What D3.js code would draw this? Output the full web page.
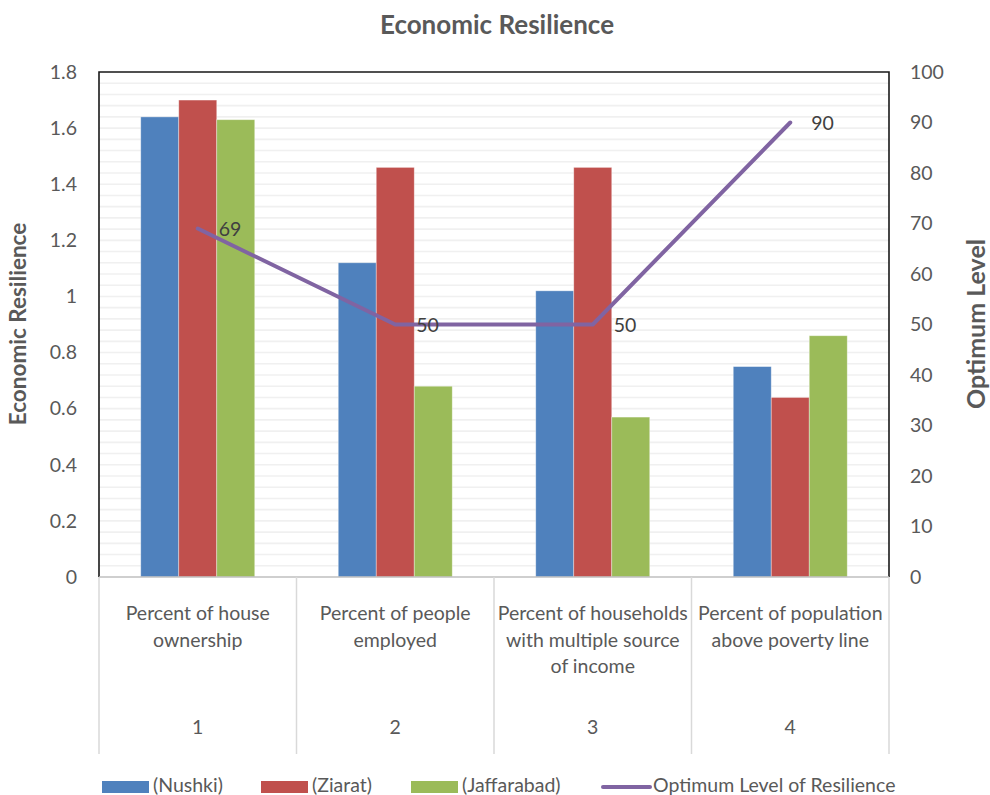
<!DOCTYPE html>
<html><head><meta charset="utf-8">
<script src="https://cdn.jsdelivr.net/npm/d3@7"></script>
<style>body{margin:0;background:#fff}svg{display:block}text{font-family:Lato,"Open Sans",sans-serif}</style>
</head><body>
<svg id="c" width="990" height="795"></svg>
<script>
const categories = ["Percent of house ownership","Percent of people employed","Percent of households with multiple source of income","Percent of population above poverty line"];
const categoryLines = [["Percent of house","ownership"],["Percent of people","employed"],["Percent of households","with multiple source","of income"],["Percent of population","above poverty line"]];
const categoryNumbers = ["1","2","3","4"];
const seriesNames = ["(Nushki)","(Ziarat)","(Jaffarabad)"];
const nushki = [1.64,1.12,1.02,0.75];
const ziarat = [1.70,1.46,1.46,0.64];
const jaffarabad = [1.63,0.68,0.57,0.86];
const optimumName = "Optimum Level of Resilience";
const optimum = [69,50,50,90];
const leftTicks = [0,0.2,0.4,0.6,0.8,1,1.2,1.4,1.6,1.8];
const rightTicks = [0,10,20,30,40,50,60,70,80,90,100];
const colors = ["#4F81BD","#C0504D","#9BBB59"];
const lineColor = "#8064A2";

const svg = d3.select("#c");
const L=99,R=889,T=72,B=577;
const FS=19.5;
const x = d3.scaleBand().domain(d3.range(categories.length)).range([L,R]);
const yL = d3.scaleLinear().domain([0,1.8]).range([B,T]);
const yR = d3.scaleLinear().domain([0,100]).range([B,T]);
const barW = 38;
const inner = d3.scaleBand().domain(d3.range(3)).range([0,barW*3]);

// minor gridlines
const grid = d3.range(0,1.8001,0.04);
svg.append("g").selectAll("line").data(grid.slice(1)).join("line")
  .attr("x1",L).attr("x2",R).attr("y1",d=>yL(d)).attr("y2",d=>yL(d))
  .attr("stroke","#f0f0f0").attr("stroke-width",1.6);

// bars
const series=[nushki,ziarat,jaffarabad];
series.forEach((s,si)=>{
  svg.append("g").selectAll("rect").data(s).join("rect")
    .attr("x",(d,i)=>x(i)+x.bandwidth()/2-barW*1.5+inner(si))
    .attr("width",barW)
    .attr("y",d=>yL(d)).attr("height",d=>B-yL(d))
    .attr("fill",colors[si]).attr("stroke","#ffffff").attr("stroke-opacity",0.45).attr("stroke-width",0.8);
});

// border
svg.append("path").attr("d",`M${L},${B}V${T}H${R}V${B}`).attr("fill","none").attr("stroke","#1a1a1a").attr("stroke-width",1.6);
svg.append("line").attr("x1",L).attr("x2",R).attr("y1",B).attr("y2",B).attr("stroke","#bfbfbf").attr("stroke-width",1.5);

// category table
const bounds = d3.range(categories.length+1).map(i=> i<categories.length? x(i): R);
svg.append("g").selectAll("line").data(bounds).join("line")
  .attr("x1",d=>d).attr("x2",d=>d).attr("y1",B).attr("y2",754)
  .attr("stroke","#d9d9d9").attr("stroke-width",1.5);
categoryLines.forEach((lines,i)=>{
  const t=svg.append("text").attr("text-anchor","middle").attr("fill","#595959").attr("font-size",FS);
  lines.forEach((ln,j)=>t.append("tspan").attr("x",x(i)+x.bandwidth()/2).attr("y",620+j*26.5).text(ln));
});
svg.append("g").selectAll("text").data(categoryNumbers).join("text")
  .attr("x",(d,i)=>x(i)+x.bandwidth()/2).attr("y",734).attr("text-anchor","middle")
  .attr("fill","#595959").attr("font-size",FS).text(d=>d);

// axes
const axL = d3.axisLeft(yL).tickValues(leftTicks).tickSize(0).tickPadding(22).tickFormat(d=>String(+d.toFixed(1)));
const gL = svg.append("g").attr("transform",`translate(${L},0)`).call(axL);
gL.select(".domain").remove();
gL.selectAll("text").attr("font-size",FS).attr("fill","#595959").attr("font-family","Lato,'Open Sans',sans-serif");
const axR = d3.axisRight(yR).tickValues(rightTicks).tickSize(0).tickPadding(21);
const gR = svg.append("g").attr("transform",`translate(${R},0)`).call(axR);
gR.select(".domain").remove();
gR.selectAll("text").attr("font-size",FS).attr("fill","#595959").attr("font-family","Lato,'Open Sans',sans-serif");

// line
const line = d3.line().x((d,i)=>x(i)+x.bandwidth()/2).y(d=>yR(d));
svg.append("path").datum(optimum).attr("d",line).attr("fill","none")
  .attr("stroke",lineColor).attr("stroke-width",4).attr("stroke-linecap","round").attr("stroke-linejoin","round");
svg.append("g").selectAll("text").data(optimum).join("text")
  .attr("x",(d,i)=>x(i)+x.bandwidth()/2+21).attr("y",d=>yR(d)+7)
  .attr("font-size",FS).attr("fill","#404040").text(d=>d);

// titles
svg.append("text").attr("x",497).attr("y",34).attr("text-anchor","middle")
  .attr("font-size",26).attr("font-weight","bold").attr("fill","#595959").text("Economic Resilience");
svg.append("text").attr("transform","translate(26,324) rotate(-90)").attr("text-anchor","middle")
  .attr("font-size",22.5).attr("font-weight","bold").attr("fill","#595959").text("Economic Resilience");
svg.append("text").attr("transform","translate(985,324) rotate(-90)").attr("text-anchor","middle")
  .attr("font-size",25).attr("font-weight","bold").attr("fill","#595959").text("Optimum Level");

// legend
const legX=[102,261,411];
seriesNames.forEach((n,i)=>{
  svg.append("rect").attr("x",legX[i]).attr("y",781).attr("width",47).attr("height",12).attr("fill",colors[i]);
  svg.append("text").attr("x",legX[i]+51).attr("y",791.5).attr("font-size",FS).attr("fill","#595959").text(n);
});
svg.append("line").attr("x1",603).attr("x2",650).attr("y1",787).attr("y2",787).attr("stroke",lineColor).attr("stroke-width",4).attr("stroke-linecap","round");
svg.append("text").attr("x",653).attr("y",791.5).attr("font-size",FS).attr("fill","#595959").text(optimumName);
</script>
</body></html>
